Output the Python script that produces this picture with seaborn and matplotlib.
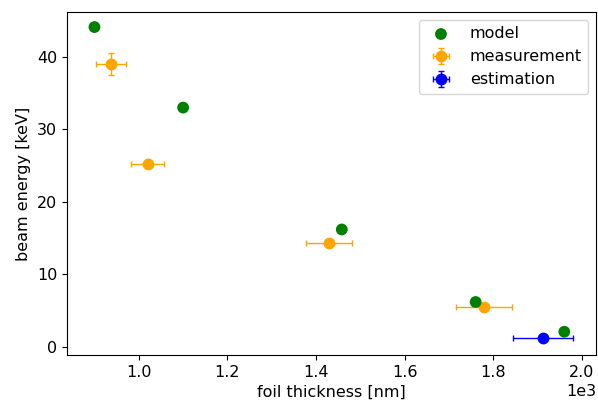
import matplotlib
matplotlib.use("Agg")
import matplotlib.pyplot as plt
import seaborn as sns
import pandas as pd

plt.rcParams["font.size"] = 11.5

model_thickness = [900, 1100, 1458, 1760, 1960]
model_energy = [44.1, 33.0, 16.2, 6.2, 2.1]

meas_thickness = [937, 1020, 1430, 1778]
meas_energy = [39.0, 25.2, 14.3, 5.5]
meas_xerr = [34, 38, 52, 63]
meas_yerr = [1.5, 0.4, 0.4, 0.4]

est_thickness = [1912]
est_energy = [1.2]
est_xerr = [68]
est_yerr = [0.3]

fig, ax = plt.subplots(figsize=(5.98, 4.08), dpi=100)
df = pd.DataFrame({"t": model_thickness, "e": model_energy})
sns.scatterplot(data=df, x="t", y="e", color="green", s=72, edgecolor="none",
                label="model", ax=ax, zorder=3)
ax.errorbar(meas_thickness, meas_energy, xerr=meas_xerr, yerr=meas_yerr,
            fmt="o", color="orange", markersize=7.5, capsize=2, elinewidth=1,
            label="measurement", zorder=2)
ax.errorbar(est_thickness, est_energy, xerr=est_xerr, yerr=est_yerr,
            fmt="o", color="blue", markersize=7.5, capsize=2, elinewidth=1,
            label="estimation", zorder=2)

ax.set_xlim(838, 2032)
ax.set_ylim(-1.1, 46.2)
ax.ticklabel_format(axis="x", style="sci", scilimits=(0, 0))
ax.set_xlabel("foil thickness [nm]")
ax.set_ylabel("beam energy [keV]")
ax.legend(loc="upper right")
fig.subplots_adjust(left=0.112, right=0.997, bottom=0.130, top=0.971)
fig.savefig("out.png", dpi=100)
